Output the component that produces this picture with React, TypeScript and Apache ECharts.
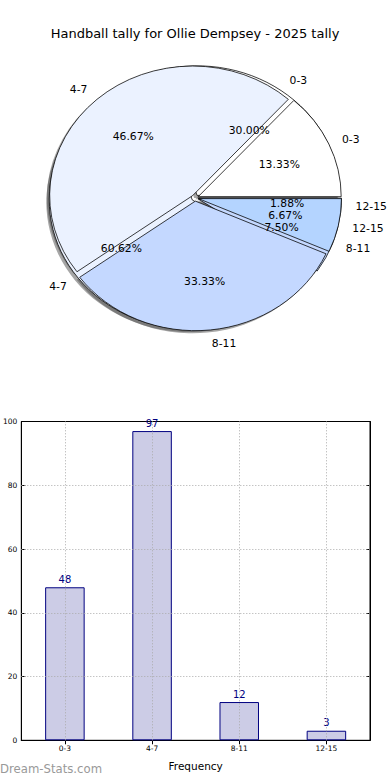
import React, { useEffect, useRef } from 'react';
import * as echarts from 'echarts';

// ---------- data ----------
const chartTitle = 'Handball tally for Ollie Dempsey - 2025 tally';
const categories = ['0-3', '4-7', '8-11', '12-15'];
const tallyValues = [48, 97, 12, 3]; // bar chart + first pie (30.00, 60.62, 7.50, 1.88 %)
const secondValues = [2, 7, 5, 1]; // second pie (13.33, 46.67, 33.33, 6.67 %)
const yTicks = [0, 20, 40, 60, 80, 100];
const watermark = 'Dream-Stats.com';

// ---------- styles ----------
const FONT = 'DejaVu Sans';
const sliceColors = ['#ffffff', '#ebf2ff', '#c4d8ff', '#b4d4ff'];
const PIE_CX = 195;
const PIE_CY = 218.5;
const PIE_R = 143;
const SCALE_Y = 0.906;
const EXPLODE = 3.5;

const pctLabels = (arr: number[]) => {
  const total = arr.reduce((a, b) => a + b, 0);
  return arr.map((v) => ((v / total) * 100).toFixed(2) + '%');
};

const wedgeSeries = (values: number[], z: number) => ({
  type: 'pie',
  z,
  center: [PIE_CX, PIE_CY],
  radius: [0, PIE_R],
  startAngle: 0,
  clockwise: false,
  selectedMode: 'multiple',
  selectedOffset: EXPLODE,
  avoidLabelOverlap: false,
  silent: true,
  emphasis: { disabled: true },
  itemStyle: { borderColor: '#000', borderWidth: 0.8 },
  select: { itemStyle: { borderColor: '#000', borderWidth: 0.8 } },
  label: {
    show: true,
    position: 'outside',
    formatter: '{b}',
    fontSize: 10.8,
    fontFamily: FONT,
    color: '#000',
    distanceToLabelLine: 0,
  },
  labelLine: { show: false, length: PIE_R * 0.1, length2: 0 },
  data: categories.map((c, i) => ({
    name: c,
    value: values[i],
    selected: true,
    itemStyle: { color: sliceColors[i] },
  })),
});

const shadowSeries = (values: number[], z: number) => ({
  type: 'pie',
  z,
  center: [PIE_CX - 0.02 * PIE_R, PIE_CY + 0.02 * PIE_R],
  radius: [0, PIE_R],
  startAngle: 0,
  clockwise: false,
  selectedMode: 'multiple',
  selectedOffset: EXPLODE,
  silent: true,
  emphasis: { disabled: true },
  itemStyle: { color: 'rgba(77,77,77,0.5)', borderWidth: 0 },
  select: { itemStyle: { color: 'rgba(77,77,77,0.5)', borderWidth: 0 } },
  label: { show: false },
  labelLine: { show: false },
  data: categories.map((c, i) => ({ name: c, value: values[i], selected: true })),
});

const pctSeries = (values: number[], z: number) => {
  const labels = pctLabels(values);
  return {
    type: 'pie',
    z,
    center: [PIE_CX, PIE_CY],
    radius: [PIE_R * 0.2, PIE_R],
    startAngle: 0,
    clockwise: false,
    selectedMode: 'multiple',
    selectedOffset: EXPLODE,
    avoidLabelOverlap: false,
    silent: true,
    emphasis: { disabled: true },
    itemStyle: { color: 'rgba(0,0,0,0)', borderWidth: 0 },
    select: { itemStyle: { color: 'rgba(0,0,0,0)', borderWidth: 0 } },
    label: {
      show: true,
      position: 'inside',
      formatter: (p: any) => labels[p.dataIndex],
      fontSize: 10.8,
      fontFamily: FONT,
      color: '#000',
    },
    labelLine: { show: false },
    data: categories.map((c, i) => ({ name: c, value: values[i], selected: true })),
  };
};

export default function App() {
  const mainRef = useRef<HTMLDivElement>(null);
  const pieRef = useRef<HTMLDivElement>(null);

  useEffect(() => {
    const main = echarts.init(mainRef.current!, undefined, { renderer: 'svg' });
    const pie = echarts.init(pieRef.current!, undefined, { renderer: 'svg' });

    const axisLineStyle = { show: true, lineStyle: { color: '#000', width: 1 } };
    const tickStyle = { show: true, inside: true, length: 4, lineStyle: { color: '#000' } };

    main.setOption({
      animation: false,
      textStyle: { fontFamily: FONT },
      title: {
        text: chartTitle,
        left: 'center',
        top: 22,
        textStyle: { fontSize: 13, fontWeight: 'normal', color: '#000', fontFamily: FONT },
      },
      grid: {
        left: 20,
        right: 20,
        top: 421.5,
        bottom: 39.7,
        show: true,
        borderColor: '#000',
        borderWidth: 1,
        backgroundColor: 'transparent',
      },
      xAxis: [
        {
          type: 'category',
          data: categories,
          position: 'bottom',
          boundaryGap: true,
          axisLine: axisLineStyle,
          axisTick: { ...tickStyle, alignWithLabel: true },
          axisLabel: { fontSize: 7.5, color: '#000', margin: 4, fontFamily: FONT },
          splitLine: { show: false },
          name: 'Frequency',
          nameLocation: 'middle',
          nameGap: 20,
          nameTextStyle: { fontSize: 10.5, color: '#000', fontFamily: FONT },
        },
        {
          type: 'category',
          data: categories,
          position: 'top',
          boundaryGap: true,
          axisLine: axisLineStyle,
          axisTick: { ...tickStyle, alignWithLabel: true },
          axisLabel: { show: false },
          splitLine: { show: false },
        },
      ],
      yAxis: [
        {
          type: 'value',
          min: yTicks[0],
          max: yTicks[yTicks.length - 1],
          interval: yTicks[1] - yTicks[0],
          position: 'left',
          axisLine: axisLineStyle,
          axisTick: tickStyle,
          axisLabel: { fontSize: 7.5, color: '#000', margin: 4, fontFamily: FONT },
          splitLine: { show: false },
        },
        {
          type: 'value',
          min: yTicks[0],
          max: yTicks[yTicks.length - 1],
          interval: yTicks[1] - yTicks[0],
          position: 'right',
          axisLine: axisLineStyle,
          axisTick: tickStyle,
          axisLabel: { show: false },
          splitLine: { show: false },
        },
      ],
      series: [
        {
          type: 'bar',
          xAxisIndex: 0,
          yAxisIndex: 0,
          data: tallyValues,
          barWidth: 39.5,
          itemStyle: { color: '#cccce6', borderColor: '#000080', borderWidth: 1 },
          label: {
            show: true,
            position: 'top',
            distance: 3,
            color: '#000080',
            fontSize: 10,
            fontFamily: FONT,
          },
          markLine: {
            silent: true,
            symbol: ['none', 'none'],
            label: { show: false },
            lineStyle: { type: [1, 2], color: '#aaa', width: 1 },
            data: [
              ...yTicks.slice(1, -1).map((v) => ({ yAxis: v })),
              ...categories.map((c) => ({ xAxis: c })),
            ],
          },
        },
      ],
      graphic: [
        {
          type: 'text',
          left: 0,
          top: 763,
          style: { text: watermark, fontSize: 11.7, fill: '#999', fontFamily: FONT },
        },
      ],
    });

    pie.setOption({
      animation: false,
      textStyle: { fontFamily: FONT },
      series: [
        shadowSeries(tallyValues, 1),
        shadowSeries(secondValues, 1),
        wedgeSeries(tallyValues, 2),
        wedgeSeries(secondValues, 3),
        pctSeries(tallyValues, 4),
        pctSeries(secondValues, 4),
      ],
    });

    return () => {
      main.dispose();
      pie.dispose();
    };
  }, []);

  return (
    <div style={{ position: 'absolute', left: 0, top: 0, width: 390, height: 780, background: '#fff' }}>
      <div ref={mainRef} style={{ position: 'absolute', left: 0, top: 0, width: 390, height: 780 }} />
      <div
        ref={pieRef}
        style={{
          position: 'absolute',
          left: 0,
          top: 0,
          width: 390,
          height: 400,
          transform: `scaleY(${SCALE_Y})`,
          transformOrigin: '0 0',
        }}
      />
    </div>
  );
}
